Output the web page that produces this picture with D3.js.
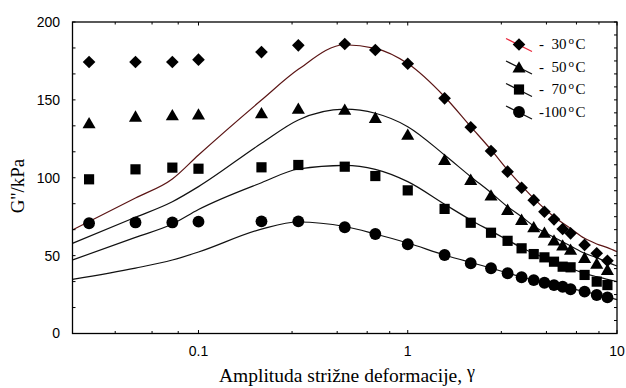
<!DOCTYPE html>
<html>
<head>
<meta charset="utf-8">
<script src="https://cdn.jsdelivr.net/npm/d3@7"></script>
<style>
  body { margin: 0; background: #fff; }
  svg { display: block; }
</style>
</head>
<body>
<svg id="chart" width="626" height="388"></svg>
<script>
// measured strain amplitudes (same for every temperature)
var gammaPts = [0.03, 0.05, 0.075, 0.1, 0.2, 0.3, 0.5, 0.7, 1, 1.5, 2, 2.5, 3, 3.5, 4, 4.5, 5, 5.5, 6, 7, 8, 9];
var g30  = [174.3, 174.3, 174.3, 175.8, 180.7, 185.0, 185.9, 182.0, 173.2, 151.0, 132.4, 117.2, 103.9, 93.6, 85.6, 78.2, 73.3, 67.1, 64.3, 56.9, 51.5, 46.7];
var g50  = [135.3, 139.6, 140.5, 140.9, 141.8, 144.6, 144.0, 138.8, 127.9, 111.8, 99.0, 88.9, 79.7, 73.3, 68.6, 65.0, 60.0, 56.8, 54.1, 48.9, 45.1, 41.2];
var g70  = [99.0, 105.4, 106.5, 105.8, 106.7, 108.2, 107.1, 101.1, 91.9, 80.0, 71.1, 64.7, 59.5, 54.7, 51.0, 48.9, 46.1, 42.9, 42.5, 37.6, 33.3, 31.1];
var g100 = [70.8, 71.3, 71.3, 71.8, 72.0, 72.0, 68.2, 63.9, 57.3, 50.4, 45.1, 41.9, 38.7, 36.1, 34.3, 32.6, 31.1, 30.0, 28.4, 26.9, 24.7, 23.2];

// model (fit) curves
var fitX   = [0.025, 0.05, 0.075, 0.1, 0.2, 0.3, 0.5, 0.7, 1, 1.5, 2, 2.5, 3, 3.5, 4, 5, 6, 7, 8, 9, 10];
var fit30  = [66.5, 87.0, 99.2, 114.6, 149.9, 169.6, 185.4, 183.1, 173.3, 152.0, 132.8, 118.0, 105.0, 95.0, 86.8, 75.0, 67.5, 61.1, 57.5, 55.1, 52.5];
var fit50  = [57.9, 74.6, 84.6, 94.3, 122.1, 137.1, 144.0, 141.4, 132.8, 114.6, 100.7, 90.4, 81.4, 75.0, 69.0, 61.8, 56.2, 51.5, 48.7, 45.7, 43.3];
var fit70  = [47.2, 61.7, 70.3, 79.6, 96.8, 105.6, 108.0, 105.4, 97.5, 83.0, 72.9, 65.8, 60.0, 55.1, 51.5, 46.1, 41.9, 38.6, 36.5, 34.8, 33.3];
var fit100 = [34.8, 42.0, 47.2, 52.3, 67.0, 71.6, 68.7, 63.9, 58.1, 50.4, 45.6, 42.0, 38.8, 36.3, 34.3, 31.1, 28.9, 27.0, 25.0, 23.4, 21.8];

var temps = ["30", "50", "70", "100"];

// axis ticks
var xMajor = [0.1, 1, 10];
var xMinor = [0.04, 0.06, 0.08, 0.28, 0.46, 0.64, 0.82, 2.8, 4.6, 6.4, 8.2];
var yLabels = [0, 50, 100, 150, 200];

var svg = d3.select("#chart"),
    pLeft = 72.5, pRight = 617, pTop = 22, pBottom = 333.5;

var x = d3.scaleLog().domain([0.025, 10]).range([pLeft, pRight]);
var y = d3.scaleLinear().domain([0, 200]).range([pBottom, pTop]);

var series = [
  { t: temps[0], pts: g30,  fit: fit30,  shape: "diamond",  line: "#5b1515", legendLine: "#e8283c" },
  { t: temps[1], pts: g50,  fit: fit50,  shape: "triangle", line: "#111",    legendLine: "#111" },
  { t: temps[2], pts: g70,  fit: fit70,  shape: "square",   line: "#111",    legendLine: "#111" },
  { t: temps[3], pts: g100, fit: fit100, shape: "circle",   line: "#111",    legendLine: "#111" }
];

function marker(sel, shape) {
  if (shape == "diamond") {
    sel.append("path").attr("d", d3.symbol().type(d3.symbolSquare).size(80)()).attr("transform", "rotate(45)");
  } else if (shape == "triangle") {
    sel.append("path").attr("d", d3.symbol().type(d3.symbolTriangle).size(74)()).attr("transform", "translate(0,1.8)");
  } else if (shape == "square") {
    sel.append("path").attr("d", d3.symbol().type(d3.symbolSquare).size(104)());
  } else {
    sel.append("path").attr("d", d3.symbol().type(d3.symbolCircle).size(110)());
  }
}

// fit lines
var line = d3.line()
    .x(function(d) { return x(d[0]); })
    .y(function(d) { return y(d[1]); })
    .curve(d3.curveMonotoneX);

svg.append("g")
  .selectAll("path")
  .data(series)
  .enter().append("path")
    .attr("fill", "none")
    .attr("stroke", function(d) { return d.line; })
    .attr("stroke-width", 1.2)
    .attr("d", function(d) { return line(fitX.map(function(v, i) { return [v, d.fit[i]]; })); });

// data markers
series.forEach(function(s) {
  var g = svg.append("g").attr("fill", "#000");
  gammaPts.forEach(function(v, i) {
    var m = g.append("g").attr("transform", "translate(" + x(v) + "," + y(s.pts[i]) + ")");
    marker(m, s.shape);
  });
});

// frame
svg.append("rect")
    .attr("x", pLeft).attr("y", pTop)
    .attr("width", pRight - pLeft).attr("height", pBottom - pTop)
    .attr("fill", "none").attr("stroke", "#000").attr("stroke-width", 1.3);

var ticks = svg.append("g").attr("stroke", "#000").attr("stroke-width", 1);
xMajor.concat(xMinor).forEach(function(v) {
  var len = xMajor.indexOf(v) >= 0 ? 3.5 : 2.5;
  ticks.append("line").attr("x1", x(v)).attr("x2", x(v)).attr("y1", pBottom).attr("y2", pBottom - len);
  ticks.append("line").attr("x1", x(v)).attr("x2", x(v)).attr("y1", pTop).attr("y2", pTop + len);
});
d3.range(0, 200.01, 50 / 3).forEach(function(v) {
  ticks.append("line").attr("x1", pLeft).attr("x2", pLeft + 3).attr("y1", y(v)).attr("y2", y(v));
});
d3.range(0, 200.01, 50 / 6).forEach(function(v) {
  ticks.append("line").attr("x1", pRight).attr("x2", pRight - 3).attr("y1", y(v)).attr("y2", y(v));
});

// tick labels
svg.append("g")
  .selectAll("text")
  .data(yLabels)
  .enter().append("text")
    .attr("x", 60)
    .attr("y", function(d) { return y(d); })
    .attr("dy", "0.35em")
    .attr("text-anchor", "end")
    .attr("font-family", "Liberation Sans, Arial, sans-serif")
    .attr("font-size", 14)
    .text(function(d) { return d; });

svg.append("g")
  .selectAll("text")
  .data(xMajor)
  .enter().append("text")
    .attr("x", function(d) { return x(d); })
    .attr("y", 356)
    .attr("text-anchor", "middle")
    .attr("font-family", "Liberation Sans, Arial, sans-serif")
    .attr("font-size", 14)
    .text(function(d) { return d; });

// axis titles
svg.append("text")
    .attr("transform", "translate(24,186)rotate(-90)")
    .attr("text-anchor", "middle")
    .attr("font-family", "Liberation Serif, Times New Roman, serif")
    .attr("font-size", 19)
    .text("G''/kPa");

var xt = svg.append("text")
    .attr("x", 347)
    .attr("y", 382)
    .attr("text-anchor", "middle")
    .attr("font-family", "Liberation Serif, Times New Roman, serif")
    .attr("font-size", 19.5)
    .text("Amplituda strižne deformacije, ");
xt.append("tspan").attr("dy", -4).attr("font-size", 18).text("γ");

// legend
var legend = svg.append("g")
  .selectAll("g")
  .data(series)
  .enter().append("g")
    .attr("transform", function(d, i) { return "translate(0," + (43.5 + i * 22.5) + ")"; });

legend.append("line")
    .attr("x1", 506).attr("y1", -5).attr("x2", 532).attr("y2", 8)
    .attr("stroke", function(d) { return d.legendLine; })
    .attr("stroke-width", 1.2);

legend.each(function(d) {
  var m = d3.select(this).append("g").attr("transform", "translate(519,1)");
  marker(m, d.shape);
});

var lt = legend.append("text")
    .attr("x", 539)
    .attr("y", 5.5)
    .attr("font-family", "Liberation Serif, Times New Roman, serif")
    .attr("font-size", 15)
    .attr("xml:space", "preserve");
lt.append("tspan").text(function(d) { return d.t.length > 2 ? "-" + d.t : "-  " + d.t; });
lt.append("tspan").attr("dx", 2).attr("dy", -5).attr("font-size", 11).text("o");
lt.append("tspan").attr("dx", 1.5).attr("dy", 5).text("C");
</script>
</body>
</html>
